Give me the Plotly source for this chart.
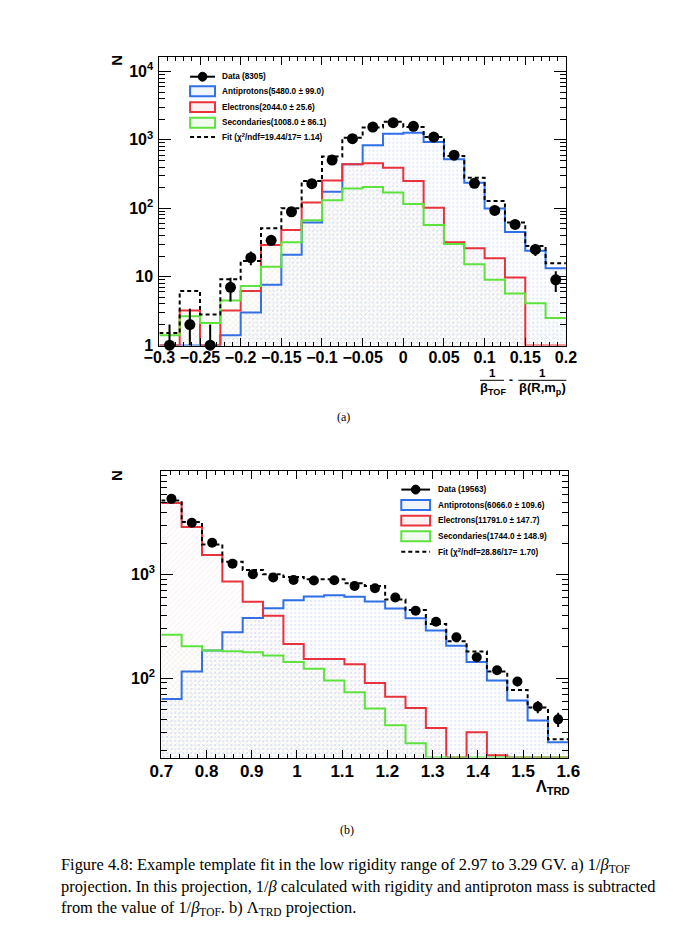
import numpy as np
import plotly.graph_objects as go

W, H = 700, 942

# ---------------- Panel (a): 1/beta_TOF - 1/beta(R, m_p) ----------------
a_x_min, a_x_max, a_nbins = -0.3, 0.2, 20
a_data = [1, 2, 1, 7, 19, 34, 89, 229, 507, 1040, 1540, 1780, 1574, 1100, 598, 232, 93, 58, 25, 9]
a_antiprotons = [0, 0, 0, 1.4, 3.0, 7.6, 21, 62, 175, 440, 836, 1230, 1275, 930, 519, 237, 99, 45, 24, 13.3]
a_electrons = [0, 3.2, 0, 3.2, 6.2, 29, 48, 121, 255, 440, 454, 392, 250, 102, 32, 26, 18.6, 9.7, 0, 0]
a_secondaries = [1.4, 2.65, 2.1, 4.5, 7.3, 14, 32, 67, 131, 194, 205, 170, 115, 57, 30, 15.2, 9.0, 5.7, 4.1, 2.5]
a_fit = [1.5, 6.2, 2.8, 9.2, 17, 51, 100, 250, 569, 1075, 1510, 1840, 1540, 1100, 580, 280, 128, 62, 28, 15.7]
a_xtick_vals = [-0.3, -0.25, -0.2, -0.15, -0.1, -0.05, 0, 0.05, 0.1, 0.15, 0.2]
a_xtick_text = ["\u22120.3", "\u22120.25", "\u22120.2", "\u22120.15", "\u22120.1", "\u22120.05",
                "0", "0.05", "0.1", "0.15", "0.2"]
a_ytick_vals = [1, 10, 100, 1000, 10000]
a_ytick_text = ["1", "10", "10<sup>2</sup>", "10<sup>3</sup>", "10<sup>4</sup>"]
a_legend = ["Data (8305)", "Antiprotons(5480.0 \u00b1 99.0)", "Electrons(2044.0 \u00b1 25.6)",
            "Secondaries(1008.0 \u00b1 86.1)", "Fit (\u03c7<sup>2</sup>/ndf=19.44/17= 1.14)"]

# ---------------- Panel (b): Lambda_TRD ----------------
b_x_min, b_x_max, b_nbins = 0.7, 1.6, 20
b_data = [5385, 3162, 2030, 1276, 1007, 936, 889, 876, 881, 778, 738, 601, 448, 351, 248, 159, 119, 93, 53, 40]
b_antiprotons = [63, 116, 185, 277, 380, 474, 566, 614, 632, 611, 550, 471, 378, 288, 206, 143, 95, 61, 39, 24]
b_electrons = [4920, 2878, 1549, 857, 546, 401, 214, 153, 153, 136, 90, 66, 51.5, 33, 0, 30, 18, 0, 0, 0]
b_secondaries = [263, 203, 185, 182, 178, 165, 143, 123, 95, 73, 51, 35, 23.5, 0, 0, 0, 0, 0, 0, 0]
b_fit = [5180, 3215, 1955, 1334, 1110, 1007, 950, 902, 902, 825, 778, 575, 454, 333, 227, 181, 116, 77, 52, 25.7]
b_xtick_vals = [0.7, 0.8, 0.9, 1.0, 1.1, 1.2, 1.3, 1.4, 1.5, 1.6]
b_xtick_text = ["0.7", "0.8", "0.9", "1", "1.1", "1.2", "1.3", "1.4", "1.5", "1.6"]
b_ytick_vals = [100, 1000]
b_ytick_text = ["10<sup>2</sup>", "10<sup>3</sup>"]
b_legend = ["Data (19563)", "Antiprotons(6066.0 \u00b1 109.6)", "Electrons(11791.0 \u00b1 147.7)",
            "Secondaries(1744.0 \u00b1 148.9)", "Fit (\u03c7<sup>2</sup>/ndf=28.86/17= 1.70)"]

caption_lines = [
    "Figure 4.8: Example template fit in the low rigidity range of 2.97 to 3.29 GV. a) 1/<i>\u03b2</i><sub>TOF</sub>",
    "projection. In this projection, 1/<i>\u03b2</i> calculated with rigidity and antiproton mass is subtracted",
    "from the value of 1/<i>\u03b2</i><sub>TOF</sub>. b) \u039b<sub>TRD</sub> projection.",
]

# ---------------- styles ----------------
BLUE = "#2f6fe8"
RED = "#e8323c"
GREEN = "#5ee23e"
SANS = "Liberation Sans"
SERIF = "Liberation Serif"

comp_styles = [
    (BLUE, dict(shape=".", fgcolor="rgba(60,120,235,0.40)", bgcolor="rgba(0,0,0,0)", size=4, solidity=0.2)),
    (RED, dict(shape="/", fgcolor="rgba(235,70,80,0.40)", bgcolor="rgba(0,0,0,0)", size=4, solidity=0.15)),
    (GREEN, dict(shape="\\", fgcolor="rgba(80,200,60,0.40)", bgcolor="rgba(0,0,0,0)", size=4, solidity=0.15)),
]


def px(x):
    return x / W


def py(y):
    return 1 - y / H


fig = go.Figure()

# panel geometry (pixels)
panels = {
    "a": dict(x0=141, x1=564.5, y0=49, y1=340.5, yr=[-0.007, 4.217]),
    "b": dict(x0=143, x1=567, y0=467, y1=756, yr=[1.233, 4.0]),
}


def add_panel(xa, ya, xmin, xmax, nb, comps, data, fit, yr, msize):
    edges = np.linspace(xmin, xmax, nb + 1)
    centers = 0.5 * (edges[:-1] + edges[1:])
    floor = 10 ** yr[0]
    for vals, (col, pat) in zip(comps, comp_styles):
        y = np.maximum(np.array(vals, float), floor)
        y = np.append(y, y[-1])
        fig.add_trace(go.Scatter(x=edges, y=y, mode="lines", line=dict(color=col, width=2, shape="hv"),
                                 fill="tozeroy", fillcolor="rgba(0,0,0,0)", fillpattern=pat,
                                 xaxis=xa, yaxis=ya, showlegend=False, hoverinfo="skip"))
    yf = np.maximum(np.array(fit, float), floor)
    yf = np.append(yf, yf[-1])
    fig.add_trace(go.Scatter(x=edges, y=yf, mode="lines",
                             line=dict(color="black", width=2, shape="hv", dash="4px,3px"),
                             xaxis=xa, yaxis=ya, showlegend=False, hoverinfo="skip"))
    d = np.array(data, float)
    err = np.sqrt(d)
    errm = d - np.maximum(d - err, floor)
    fig.add_trace(go.Scatter(x=centers, y=d, mode="markers",
                             marker=dict(color="black", size=msize, symbol="circle"),
                             error_y=dict(type="data", array=err, arrayminus=errm, symmetric=False,
                                          color="black", thickness=2, width=0),
                             cliponaxis=False, xaxis=xa, yaxis=ya, showlegend=False))


add_panel("x", "y", a_x_min, a_x_max, a_nbins, [a_antiprotons, a_electrons, a_secondaries],
          a_data, a_fit, panels["a"]["yr"], 11)
add_panel("x2", "y2", b_x_min, b_x_max, b_nbins, [b_antiprotons, b_electrons, b_secondaries],
          b_data, b_fit, panels["b"]["yr"], 10)


def log_minor(lo, hi):
    vals = []
    for e in range(int(np.floor(lo)), int(np.ceil(hi)) + 1):
        for k in range(2, 10):
            vals.append(k * 10.0 ** e)
    return vals


xtickfont_a = dict(family=SANS, size=16, color="black", weight="bold")
xtickfont_b = dict(family=SANS, size=17, color="black", weight="bold")
ytickfont = dict(family=SANS, size=16, color="black", weight="bold")
common_ax = dict(showline=True, linecolor="black", linewidth=1, mirror="ticks", ticks="inside",
                 tickcolor="black", tickwidth=1, showgrid=False, zeroline=False, tickmode="array")

pa, pb = panels["a"], panels["b"]
fig.update_layout(
    width=W, height=H, margin=dict(l=0, r=0, t=0, b=0),
    paper_bgcolor="white", plot_bgcolor="white", showlegend=False,
    xaxis=dict(domain=[px(pa["x0"]), px(pa["x1"])], range=[a_x_min, a_x_max], anchor="y",
               tickvals=a_xtick_vals, ticktext=a_xtick_text, ticklen=8, tickfont=xtickfont_a,
               ticklabelstandoff=-3,
               minor=dict(tickvals=list(np.round(np.arange(a_x_min, a_x_max + 1e-9, 0.01), 3)),
                          ticks="inside", ticklen=4, tickcolor="black"), **common_ax),
    yaxis=dict(domain=[py(pa["y1"]), py(pa["y0"])], type="log", range=pa["yr"], anchor="x",
               tickvals=a_ytick_vals, ticktext=a_ytick_text, ticklen=12, tickfont=ytickfont,
               ticklabelstandoff=2,
               minor=dict(tickvals=log_minor(*pa["yr"]), ticks="inside", ticklen=6, tickcolor="black"),
               **common_ax),
    xaxis2=dict(domain=[px(pb["x0"]), px(pb["x1"])], range=[b_x_min, b_x_max], anchor="y2",
                tickvals=b_xtick_vals, ticktext=b_xtick_text, ticklen=8, tickfont=xtickfont_b,
                ticklabelstandoff=-2,
                minor=dict(tickvals=list(np.round(np.arange(b_x_min, b_x_max + 1e-9, 0.02), 3)),
                           ticks="inside", ticklen=4, tickcolor="black"), **common_ax),
    yaxis2=dict(domain=[py(pb["y1"]), py(pb["y0"])], type="log", range=pb["yr"], anchor="x2",
                tickvals=b_ytick_vals, ticktext=b_ytick_text, ticklen=12, tickfont=ytickfont,
                ticklabelstandoff=2,
                minor=dict(tickvals=log_minor(*pb["yr"]), ticks="inside", ticklen=6, tickcolor="black"),
                **common_ax),
)

shapes = []
annotations = []


def text(x, y, s, size, family=SANS, bold=True, xanchor="center", angle=0):
    annotations.append(dict(x=px(x), y=py(y), xref="paper", yref="paper", text=s, showarrow=False,
                            xanchor=xanchor, yanchor="middle", textangle=angle,
                            font=dict(family=family, size=size, color="black",
                                      weight="bold" if bold else "normal")))


def legend(labels, kx0, kx1, tx, ys, fills):
    # Data entry
    y = ys[0]
    shapes.append(dict(type="line", xref="paper", yref="paper", x0=px(kx0), x1=px(kx1), y0=py(y), y1=py(y),
                       line=dict(color="black", width=2)))
    cx = 0.5 * (kx0 + kx1)
    r = 4.5
    shapes.append(dict(type="circle", xref="paper", yref="paper", x0=px(cx - r), x1=px(cx + r),
                       y0=py(y + r), y1=py(y - r), fillcolor="black", line=dict(color="black", width=1)))
    text(tx, y, labels[0], 8.2, xanchor="left")
    for i, (col, fc) in enumerate(fills):
        y = ys[i + 1]
        shapes.append(dict(type="rect", xref="paper", yref="paper", x0=px(kx0), x1=px(kx1),
                           y0=py(y + 5), y1=py(y - 5), fillcolor=fc, line=dict(color=col, width=2)))
        text(tx, y, labels[i + 1], 8.2, xanchor="left")
    y = ys[4]
    shapes.append(dict(type="line", xref="paper", yref="paper", x0=px(kx0), x1=px(kx1), y0=py(y), y1=py(y),
                       line=dict(color="black", width=2, dash="4px,3px")))
    text(tx, y, labels[4], 8.2, xanchor="left")


fills = [(BLUE, "rgba(60,120,235,0.08)"), (RED, "rgba(235,80,90,0.08)"), (GREEN, "rgba(90,200,70,0.08)")]
legend(a_legend, 173, 199, 204, [69.3, 84, 100, 115.7, 130], fills)
legend(b_legend, 393, 423, 429, [485.7, 501.3, 517, 532.7, 548.3], fills)

# axis titles
text(96, 53, "N", 15, angle=-90)
text(97, 472, "N", 15, angle=-90)
# x title (a): fraction
text(487.5, 368, "1", 11.5)
text(489, 383.5, "\u03b2<sub>TOF</sub>", 13)
text(507, 375, "-", 12)
text(540, 368, "1", 11.5)
text(540, 383.5, "\u03b2(R,m<sub>p</sub>)", 13)
shapes.append(dict(type="line", xref="paper", yref="paper", x0=px(475), x1=px(500), y0=py(375.5), y1=py(375.5),
                   line=dict(color="black", width=1)))
shapes.append(dict(type="line", xref="paper", yref="paper", x0=px(515), x1=px(565), y0=py(375.5), y1=py(375.5),
                   line=dict(color="black", width=1)))
# x title (b)
text(551, 786, "\u039b<sub>TRD</sub>", 16)

# sub-captions
text(333, 412, "(a)", 12, family=SERIF, bold=False)
text(336, 829, "(b)", 12, family=SERIF, bold=False)

# figure caption
for i, line in enumerate(caption_lines):
    text(36, 864 + 22 * i, line, 16.4, family=SERIF, bold=False, xanchor="left")

fig.update_layout(shapes=shapes, annotations=annotations)
fig.write_html("out.html")
